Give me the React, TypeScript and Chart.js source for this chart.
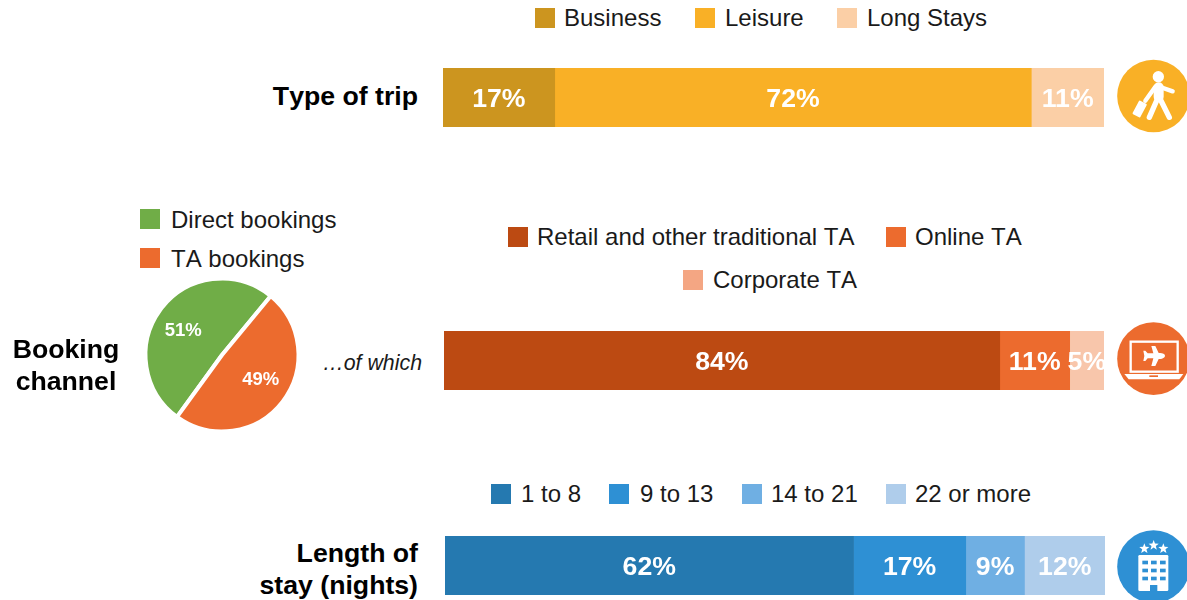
import React, { useEffect, useRef } from "react";
import { Chart, registerables } from "chart.js";

Chart.register(...registerables);

const tripNames = ["Business", "Leisure", "Long Stays"];
const tripValues = [16.9, 72.1, 11];
const tripColors = ["#CC951F", "#F9B026", "#FBCFA6"];

const channelNames = ["Direct bookings", "TA bookings"];
const channelValues = [51, 49];
const channelColors = ["#70AD47", "#EC6B2E"];

const taNames = ["Retail and other traditional TA", "Online TA", "Corporate TA"];
const taValues = [84.2, 10.6, 5.2];
const taColors = ["#BC4A12", "#EC6B2E", "#F8C6AB"];
const taLegendColors = ["#BC4A12", "#EC6B2E", "#F4A683"];

const stayNames = ["1 to 8", "9 to 13", "14 to 21", "22 or more"];
const stayValues = [61.9, 17, 8.9, 12.2];
const stayColors = ["#2579B0", "#2E90D4", "#6FAFE3", "#AFCDEB"];

const FONT = '"Liberation Sans", Arial, sans-serif';

const percentPlugin = {
  id: "percentLabels",
  afterDatasetsDraw(chart: any) {
    const { ctx } = chart;
    const isPie = chart.config.type === "pie";
    ctx.save();
    ctx.fillStyle = "#fff";
    ctx.textAlign = "center";
    ctx.textBaseline = "middle";
    ctx.font = `bold ${isPie ? 18.5 : 26.67}px ${FONT}`;
    chart.data.datasets.forEach((ds: any, i: number) => {
      chart.getDatasetMeta(i).data.forEach((el: any, j: number) => {
        const text = `${Math.round(ds.data[j])}%`;
        if (isPie) {
          const mid = (el.startAngle + el.endAngle) / 2 - 0.09;
          ctx.fillText(text, el.x + Math.cos(mid) * 46, el.y + Math.sin(mid) * 46 + 0.5);
        } else {
          ctx.fillText(text, (el.base + el.x) / 2, el.y + 2);
        }
      });
    });
    ctx.restore();
  },
};

function StackedBar({ names, values, colors, left, top, width, height }: any) {
  const ref = useRef<HTMLCanvasElement>(null);
  useEffect(() => {
    const chart = new Chart(ref.current!, {
      type: "bar",
      data: {
        labels: [""],
        datasets: names.map((n: string, i: number) => ({
          label: n,
          data: [values[i]],
          backgroundColor: colors[i],
          borderWidth: 0,
          barPercentage: 1,
          categoryPercentage: 1,
        })),
      },
      options: {
        indexAxis: "y",
        responsive: false,
        animation: false,
        layout: { padding: 0 },
        scales: {
          x: { stacked: true, display: false, min: 0, max: 100 },
          y: { stacked: true, display: false },
        },
        plugins: { legend: { display: false }, tooltip: { enabled: false } },
      },
      plugins: [percentPlugin],
    } as any);
    return () => chart.destroy();
  }, []);
  return (
    <canvas
      ref={ref}
      width={width}
      height={height}
      style={{ position: "absolute", left, top, width, height, display: "block" }}
    />
  );
}

function ChannelPie() {
  const ref = useRef<HTMLCanvasElement>(null);
  useEffect(() => {
    const chart = new Chart(ref.current!, {
      type: "pie",
      data: {
        labels: channelNames,
        datasets: [
          {
            data: channelValues,
            backgroundColor: channelColors,
            borderColor: "#fff",
            borderWidth: 4,
          },
        ],
      },
      options: {
        responsive: false,
        animation: false,
        rotation: -144,
        radius: 76.5,
        layout: { padding: 0 },
        plugins: { legend: { display: false }, tooltip: { enabled: false } },
      },
      plugins: [percentPlugin],
    } as any);
    return () => chart.destroy();
  }, []);
  return (
    <canvas
      ref={ref}
      width={170}
      height={170}
      style={{ position: "absolute", left: 137, top: 270, width: 170, height: 170, display: "block" }}
    />
  );
}

const textStyle: React.CSSProperties = {
  position: "absolute",
  fontFamily: FONT,
  lineHeight: "30px",
  height: 30,
  whiteSpace: "nowrap",
  fontKerning: "none",
};

function Legend({ names, colors, spots }: any) {
  return names.map((name: string, i: number) => {
    const [x, textX, cy, textCy] = spots[i];
    return (
      <React.Fragment key={name}>
        <div style={{ position: "absolute", left: x, top: cy - 10, width: 20, height: 20, background: colors[i] }} />
        <div style={{ ...textStyle, left: textX, top: (textCy ?? cy) - 15, fontSize: 24, color: "#1a1a1a" }}>{name}</div>
      </React.Fragment>
    );
  });
}

function Heading({ text, right, center, cy }: any) {
  const s: React.CSSProperties = { ...textStyle, top: cy - 15, fontSize: 26.67, fontWeight: 700, color: "#000" };
  if (right !== undefined) {
    s.right = 1187 - right;
  } else {
    s.left = center - 100;
    s.width = 200;
    s.textAlign = "center";
  }
  return <div style={s}>{text}</div>;
}

function Badge({ top, fill, cy, children }: any) {
  return (
    <svg
      viewBox="0 0 261 270"
      width={87}
      height={90}
      style={{ position: "absolute", left: 1100, top, overflow: "hidden", display: "block" }}
    >
      <circle cx="160.5" cy={cy} r="109" fill={fill} />
      {children}
    </svg>
  );
}

const star = (cx: number, cy: number, r: number) => {
  const pts: string[] = [];
  for (let i = 0; i < 10; i++) {
    const a = -Math.PI / 2 + (i * Math.PI) / 5;
    const q = i % 2 ? r * 0.42 : r;
    pts.push(`${cx + Math.cos(a) * q},${cy + Math.sin(a) * q}`);
  }
  return pts.join(" ");
};

const hotelCols = [127, 153, 180];
const hotelRows = [122, 146, 170];

export default function App() {
  return (
    <div style={{ position: "absolute", left: 0, top: 0, width: 1187, height: 600, overflow: "hidden", background: "#fff" }}>
      <Legend
        names={tripNames}
        colors={tripColors}
        spots={[[535, 564, 18], [695, 725, 18], [837, 867, 18]]}
      />
      <Heading text="Type of trip" right={418} cy={96} />
      <StackedBar names={tripNames} values={tripValues} colors={tripColors} left={443} top={68} width={661} height={59} />

      <Legend names={channelNames} colors={channelColors} spots={[[140, 171, 219, 220], [140, 171, 258, 259]]} />
      <ChannelPie />
      <Heading text="Booking" center={66} cy={349} />
      <Heading text="channel" center={66} cy={381} />
      <div style={{ ...textStyle, right: 1187 - 422, top: 348, fontSize: 21.33, fontStyle: "italic", color: "#1a1a1a" }}>…of which</div>

      <Legend
        names={taNames}
        colors={taLegendColors}
        spots={[[508, 537, 237], [886, 915, 237], [683, 713, 280]]}
      />
      <StackedBar names={taNames} values={taValues} colors={taColors} left={444} top={331} width={660} height={59} />

      <Legend
        names={stayNames}
        colors={stayColors}
        spots={[[491, 521, 494], [609, 640, 494], [742, 771, 494], [886, 915, 494]]}
      />
      <Heading text="Length of" right={418} cy={553} />
      <Heading text="stay (nights)" right={418} cy={585} />
      <StackedBar names={stayNames} values={stayValues} colors={stayColors} left={445} top={536} width={660} height={59} />

      <Badge top={50} fill="#F9B026" cy={138}>
        <circle cx="175" cy="80" r="17" fill="#fff" />
        <path d="M172 108 L218 124 M166 110 L136 152" stroke="#fff" strokeWidth="13" strokeLinecap="round" fill="none" />
        <path d="M176 138 L148 202 M176 138 L208 202" stroke="#fff" strokeWidth="16" strokeLinecap="round" fill="none" />
        <path d="M176 112 L176 140" stroke="#fff" strokeWidth="30" strokeLinecap="round" fill="none" />
        <rect x="106" y="154" width="26" height="46" rx="3" fill="#fff" transform="rotate(28 119 177)" />
      </Badge>

      <Badge top={315} fill="#EC6B2E" cy={131}>
        <rect x="92" y="80" width="141" height="90" fill="none" stroke="#fff" strokeWidth="7" />
        <path d="M73 177 H250 L238 193 H86 Z" fill="#fff" />
        <rect x="148" y="181" width="26" height="5" fill="#EC6B2E" />
        <path d="M195 122 C195 115 185 113 176 114 L166 93 H154 L160 115 H143 L136 107 H130 L133 123 L130 138 H136 L143 130 H160 L154 153 H166 L176 132 C185 132 195 129 195 122 Z" fill="#fff" />
      </Badge>

      <Badge top={520} fill="#2E90D4" cy={140}>
        <polygon points={star(133, 86, 16)} fill="#fff" />
        <polygon points={star(161, 76, 16)} fill="#fff" />
        <polygon points={star(190, 86, 16)} fill="#fff" />
        <rect x="115" y="105" width="90" height="108" rx="4" fill="#fff" />
        {hotelRows.map((y) =>
          hotelCols.map((x) => <rect key={`${x}-${y}`} x={x} y={y} width="17" height="11" fill="#2E90D4" />)
        )}
        <rect x="150" y="195" width="22" height="18" fill="#2E90D4" />
      </Badge>
    </div>
  );
}
